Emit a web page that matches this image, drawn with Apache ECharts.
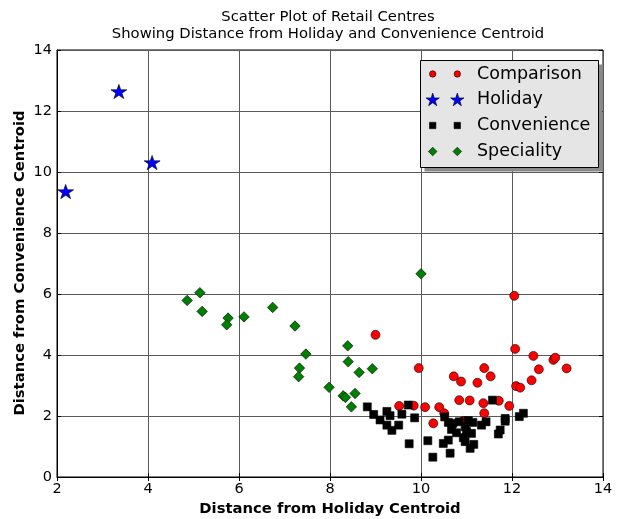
<!DOCTYPE html>
<html>
<head>
<meta charset="utf-8">
<title>Scatter Plot of Retail Centres</title>
<script src="https://cdn.jsdelivr.net/npm/echarts@6/dist/echarts.min.js"></script>
<style>
  html, body { margin: 0; padding: 0; background: #fff; }
  #chart { width: 617px; height: 519px; }
</style>
</head>
<body>
<div id="chart"></div>
<script>
// Retail centre groups: distance from the Holiday centroid (x) and the Convenience centroid (y)
const comparisonX = [9.00, 9.95, 10.72, 10.88, 11.24, 11.39, 11.53, 10.84, 11.07, 11.37, 11.71, 11.94, 11.39, 9.52, 9.84,
  10.09, 10.40, 10.51, 10.27, 10.93, 12.05, 12.07, 12.47, 12.91, 12.95, 13.20, 12.59, 12.43, 12.09, 12.18];
const comparisonY = [4.66, 3.57, 3.30, 3.13, 3.09, 3.57, 3.30, 2.52, 2.51, 2.42, 2.50, 2.33, 2.09, 2.33, 2.34,
  2.29, 2.29, 2.09, 1.76, 1.84, 5.94, 4.20, 3.97, 3.84, 3.91, 3.56, 3.53, 3.17, 2.98, 2.93];

const holidayX = [2.19, 3.36, 4.09];
const holidayY = [9.36, 12.64, 10.31];

const convenienceX = [8.82, 8.96, 9.10, 9.25, 9.32, 9.25, 9.36, 9.51, 9.58, 9.72, 9.86, 9.74, 10.15, 10.26, 10.49,
  10.60, 10.64, 10.52, 10.60, 10.67, 10.70, 10.78, 10.84, 10.97, 11.04, 11.14, 11.00, 10.93, 11.11, 10.97,
  11.08, 11.16, 11.57, 11.33, 11.43, 11.74, 11.70, 11.85, 11.85, 12.16, 12.25];
const convenienceY = [2.30, 2.05, 1.87, 2.15, 2.01, 1.70, 1.53, 1.70, 2.06, 2.36, 1.94, 1.09, 1.19, 0.65, 1.10,
  1.21, 0.78, 1.97, 1.79, 1.56, 1.76, 1.45, 1.81, 1.65, 1.85, 1.79, 1.49, 1.29, 1.43, 1.16,
  0.94, 1.07, 2.52, 1.70, 1.81, 1.54, 1.41, 1.92, 1.83, 1.98, 2.09];

const specialityX = [4.86, 5.14, 5.19, 5.76, 5.73, 6.11, 6.74, 7.23, 7.47, 7.33, 7.31, 7.98, 8.29, 8.34, 8.55,
  8.47, 8.39, 8.40, 8.64, 8.93, 10.00];
const specialityY = [5.79, 6.04, 5.43, 5.21, 4.99, 5.25, 5.56, 4.95, 4.03, 3.57, 3.29, 2.94, 2.66, 2.61, 2.74,
  2.30, 4.30, 3.78, 3.43, 3.55, 6.66];

const groupNames = ['Comparison', 'Holiday', 'Convenience', 'Speciality'];
const xTicks = { min: 2, max: 14, interval: 2 };
const yTicks = { min: 0, max: 14, interval: 2 };
const yTitle = 'Distance from Convenience Centroid';

const FONT = '"DejaVu Sans", "Liberation Sans", sans-serif';

// five-pointed star outline used for the Holiday marker
const STAR_PATH = 'path://M100,0 L122.4,69.2 L195.1,69.1 L136.2,111.8 L158.8,180.9 L100,138.1 ' +
  'L41.2,180.9 L63.8,111.8 L4.9,69.1 L77.6,69.2 Z';

function pairs(xs, ys) {
  return xs.map((x, i) => [x, ys[i]]);
}

function starPoints(cx, cy, r) {
  const pts = [];
  for (let k = 0; k < 10; k++) {
    const ang = -Math.PI / 2 + k * Math.PI / 5;
    const rr = k % 2 === 0 ? r : r * 0.381;
    pts.push([cx + rr * Math.cos(ang), cy + rr * Math.sin(ang)]);
  }
  return pts;
}

// legend box with two sample markers per entry, plus the rotated y-axis title
function extraGraphics() {
  const left = 420.5, top = 60.5, w = 178, h = 107;
  const mx = [432.7, 457.3];
  const rows = [74, 99.5, 125.5, 151.5];
  const els = [
    { type: 'rect', shape: { x: left + 4, y: top + 4, width: w, height: h }, style: { fill: '#8a8a8a' }, z: 100 },
    { type: 'rect', shape: { x: left, y: top, width: w, height: h }, style: { fill: '#e5e5e5', stroke: '#000', lineWidth: 1 }, z: 101 }
  ];
  const edge = { stroke: '#000', lineWidth: 0.6 };
  mx.forEach(x => {
    els.push({ type: 'circle', shape: { cx: x, cy: rows[0], r: 3.2 }, style: Object.assign({ fill: '#ff0000' }, edge), z: 102 });
    els.push({ type: 'polygon', shape: { points: starPoints(x, rows[1] + 0.6, 7) }, style: Object.assign({ fill: '#0000ff' }, edge), z: 102 });
    els.push({ type: 'rect', shape: { x: x - 3.2, y: rows[2] - 3.2, width: 6.4, height: 6.4 }, style: Object.assign({ fill: '#000' }, edge), z: 102 });
    els.push({ type: 'polygon', shape: { points: [[x, rows[3] - 4.3], [x + 4.3, rows[3]], [x, rows[3] + 4.3], [x - 4.3, rows[3]]] }, style: Object.assign({ fill: '#008000' }, edge), z: 102 });
  });
  groupNames.forEach((name, i) => {
    els.push({
      type: 'text', x: 477, y: rows[i], z: 102,
      style: { text: name, font: '17.5px ' + FONT, fill: '#000', verticalAlign: 'middle', align: 'left' }
    });
  });
  els.push({
    type: 'text', x: 20, y: 263, rotation: Math.PI / 2, z: 50,
    style: { text: yTitle, font: 'bold 14.8px ' + FONT, fill: '#000', align: 'center', verticalAlign: 'middle' }
  });
  return els;
}

const chart = echarts.init(document.getElementById('chart'), null, { renderer: 'canvas' });

const markerEdge = { borderColor: '#000', borderWidth: 0.6 };

const option = {
  backgroundColor: '#fff',
  animation: false,
  title: {
    text: 'Scatter Plot of Retail Centres\nShowing Distance from Holiday and Convenience Centroid',
    left: 323,
    top: 4,
    textAlign: 'center',
    textStyle: { fontFamily: FONT, fontSize: 14.8, fontWeight: 'normal', color: '#000', lineHeight: 16.5 }
  },
  grid: {
    left: 57, top: 50, right: 14, bottom: 42,
    containLabel: false, outerBoundsMode: 'none',
    show: true, borderColor: '#000', borderWidth: 1, backgroundColor: 'transparent'
  },
  xAxis: [
    {
      type: 'value', position: 'bottom',
      min: xTicks.min, max: xTicks.max, interval: xTicks.interval,
      name: 'Distance from Holiday Centroid', nameLocation: 'middle', nameGap: 24,
      nameTextStyle: { fontFamily: FONT, fontSize: 14.8, fontWeight: 'bold', color: '#000' },
      axisLine: { show: true, onZero: false, lineStyle: { color: '#000', width: 1 } },
      axisTick: { show: true, inside: true, length: 4, lineStyle: { color: '#000' } },
      axisLabel: { fontFamily: FONT, fontSize: 14.5, color: '#000', margin: 5 },
      splitLine: { show: true, lineStyle: { color: '#5a5a5a', width: 1 } }
    },
    {
      type: 'value', position: 'top',
      min: xTicks.min, max: xTicks.max, interval: xTicks.interval,
      axisLine: { show: false },
      axisTick: { show: true, inside: true, length: 4, lineStyle: { color: '#000' } },
      axisLabel: { show: false },
      splitLine: { show: false }
    }
  ],
  yAxis: [
    {
      type: 'value', position: 'left',
      min: yTicks.min, max: yTicks.max, interval: yTicks.interval,
      axisLine: { show: true, onZero: false, lineStyle: { color: '#000', width: 1 } },
      axisTick: { show: true, inside: true, length: 4, lineStyle: { color: '#000' } },
      axisLabel: { fontFamily: FONT, fontSize: 14.5, color: '#000', margin: 5 },
      splitLine: { show: true, lineStyle: { color: '#5a5a5a', width: 1 } }
    },
    {
      type: 'value', position: 'right',
      min: yTicks.min, max: yTicks.max, interval: yTicks.interval,
      axisLine: { show: false },
      axisTick: { show: true, inside: true, length: 4, lineStyle: { color: '#000' } },
      axisLabel: { show: false },
      splitLine: { show: false }
    }
  ],
  series: [
    {
      name: groupNames[0], type: 'scatter', symbol: 'circle', symbolSize: 9,
      itemStyle: Object.assign({ color: '#ff0000', opacity: 1 }, markerEdge),
      data: pairs(comparisonX, comparisonY)
    },
    {
      name: groupNames[1], type: 'scatter', symbol: STAR_PATH, symbolKeepAspect: true, symbolSize: [16, 15],
      itemStyle: Object.assign({ color: '#0000ff', opacity: 1 }, markerEdge),
      data: pairs(holidayX, holidayY)
    },
    {
      name: groupNames[2], type: 'scatter', symbol: 'rect', symbolSize: 8,
      itemStyle: Object.assign({ color: '#000000', opacity: 1 }, markerEdge),
      data: pairs(convenienceX, convenienceY)
    },
    {
      name: groupNames[3], type: 'scatter', symbol: 'diamond', symbolSize: 10.5,
      itemStyle: Object.assign({ color: '#008000', opacity: 1 }, markerEdge),
      data: pairs(specialityX, specialityY)
    }
  ],
  graphic: extraGraphics()
};

chart.setOption(option);
</script>
</body>
</html>
